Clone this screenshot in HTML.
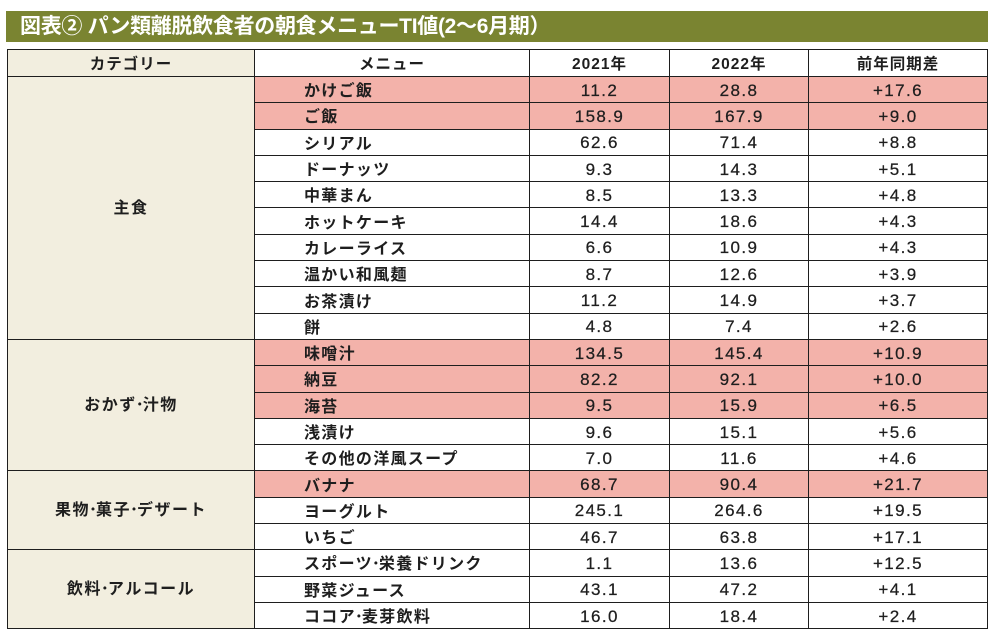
<!DOCTYPE html>
<html><head><meta charset="utf-8">
<style>
html,body{margin:0;padding:0;background:#fff;width:994px;height:637px;overflow:hidden;}
.title{position:absolute;left:6px;top:11px;width:982px;height:31px;background:#7a8431;color:#fff;
font-family:"Liberation Sans","Noto Sans CJK JP",sans-serif;font-weight:bold;font-size:21px;line-height:31px;
padding-left:14px;box-sizing:border-box;white-space:nowrap;letter-spacing:-0.3px;}
table{position:absolute;left:7px;top:49px;width:980px;border-collapse:collapse;table-layout:fixed;
font-family:"Liberation Sans","Noto Sans CJK JP",sans-serif;color:#1e1e1e;}
td,th{border:1.5px solid #1e1e1e;padding:0;vertical-align:middle;overflow:hidden;white-space:nowrap;line-height:18px;}
th{height:26px;font-size:15.5px;font-weight:bold;text-align:center;background:#fff;letter-spacing:1px;}
th.c{background:#f2eedf;}
td{height:25.3px;font-size:16.5px;}
td.cat{background:#f2eedf;text-align:center;font-weight:bold;font-size:16px;letter-spacing:1.5px;}
td.m{padding-left:49px;font-weight:bold;font-size:16px;letter-spacing:1.3px;}
td.n{text-align:center;letter-spacing:1.4px;font-size:17px;-webkit-text-stroke:0.25px #1e1e1e;}
tr.p td.m,tr.p td.n{background:#f3b2aa;}
th>span{position:relative;top:1.5px;}
td.cat>span{position:relative;top:1px;}
td.m>span{position:relative;top:2.5px;}
td.n>span{position:relative;top:1px;}
.d{letter-spacing:0;margin:0 -1px;}
</style></head><body>
<div class="title">図表② パン類離脱飲食者の朝食メニューTI値(2〜6月期）</div>
<table>
<colgroup><col style="width:247px"><col style="width:275px"><col style="width:140px"><col style="width:139px"><col style="width:179px"></colgroup>
<tr><th class="c"><span>カテゴリー</span></th><th><span>メニュー</span></th><th><span>2021年</span></th><th><span>2022年</span></th><th><span>前年同期差</span></th></tr>
<tr class="p"><td class="cat" rowspan="10"><span>主食</span></td><td class="m"><span>かけご飯</span></td><td class="n"><span>11.2</span></td><td class="n"><span>28.8</span></td><td class="n"><span>+17.6</span></td></tr>
<tr class="p"><td class="m"><span>ご飯</span></td><td class="n"><span>158.9</span></td><td class="n"><span>167.9</span></td><td class="n"><span>+9.0</span></td></tr>
<tr><td class="m"><span>シリアル</span></td><td class="n"><span>62.6</span></td><td class="n"><span>71.4</span></td><td class="n"><span>+8.8</span></td></tr>
<tr><td class="m"><span>ドーナッツ</span></td><td class="n"><span>9.3</span></td><td class="n"><span>14.3</span></td><td class="n"><span>+5.1</span></td></tr>
<tr><td class="m"><span>中華まん</span></td><td class="n"><span>8.5</span></td><td class="n"><span>13.3</span></td><td class="n"><span>+4.8</span></td></tr>
<tr><td class="m"><span>ホットケーキ</span></td><td class="n"><span>14.4</span></td><td class="n"><span>18.6</span></td><td class="n"><span>+4.3</span></td></tr>
<tr><td class="m"><span>カレーライス</span></td><td class="n"><span>6.6</span></td><td class="n"><span>10.9</span></td><td class="n"><span>+4.3</span></td></tr>
<tr><td class="m"><span>温かい和風麺</span></td><td class="n"><span>8.7</span></td><td class="n"><span>12.6</span></td><td class="n"><span>+3.9</span></td></tr>
<tr><td class="m"><span>お茶漬け</span></td><td class="n"><span>11.2</span></td><td class="n"><span>14.9</span></td><td class="n"><span>+3.7</span></td></tr>
<tr><td class="m"><span>餅</span></td><td class="n"><span>4.8</span></td><td class="n"><span>7.4</span></td><td class="n"><span>+2.6</span></td></tr>
<tr class="p"><td class="cat" rowspan="5"><span>おかず<span class="d">･</span>汁物</span></td><td class="m"><span>味噌汁</span></td><td class="n"><span>134.5</span></td><td class="n"><span>145.4</span></td><td class="n"><span>+10.9</span></td></tr>
<tr class="p"><td class="m"><span>納豆</span></td><td class="n"><span>82.2</span></td><td class="n"><span>92.1</span></td><td class="n"><span>+10.0</span></td></tr>
<tr class="p"><td class="m"><span>海苔</span></td><td class="n"><span>9.5</span></td><td class="n"><span>15.9</span></td><td class="n"><span>+6.5</span></td></tr>
<tr><td class="m"><span>浅漬け</span></td><td class="n"><span>9.6</span></td><td class="n"><span>15.1</span></td><td class="n"><span>+5.6</span></td></tr>
<tr><td class="m"><span>その他の洋風スープ</span></td><td class="n"><span>7.0</span></td><td class="n"><span>11.6</span></td><td class="n"><span>+4.6</span></td></tr>
<tr class="p"><td class="cat" rowspan="3"><span>果物<span class="d">･</span>菓子<span class="d">･</span>デザート</span></td><td class="m"><span>バナナ</span></td><td class="n"><span>68.7</span></td><td class="n"><span>90.4</span></td><td class="n"><span>+21.7</span></td></tr>
<tr><td class="m"><span>ヨーグルト</span></td><td class="n"><span>245.1</span></td><td class="n"><span>264.6</span></td><td class="n"><span>+19.5</span></td></tr>
<tr><td class="m"><span>いちご</span></td><td class="n"><span>46.7</span></td><td class="n"><span>63.8</span></td><td class="n"><span>+17.1</span></td></tr>
<tr><td class="cat" rowspan="3"><span>飲料<span class="d">･</span>アルコール</span></td><td class="m"><span>スポーツ<span class="d">･</span>栄養ドリンク</span></td><td class="n"><span>1.1</span></td><td class="n"><span>13.6</span></td><td class="n"><span>+12.5</span></td></tr>
<tr><td class="m"><span>野菜ジュース</span></td><td class="n"><span>43.1</span></td><td class="n"><span>47.2</span></td><td class="n"><span>+4.1</span></td></tr>
<tr><td class="m"><span>ココア<span class="d">･</span>麦芽飲料</span></td><td class="n"><span>16.0</span></td><td class="n"><span>18.4</span></td><td class="n"><span>+2.4</span></td></tr>
</table>
</body></html>
